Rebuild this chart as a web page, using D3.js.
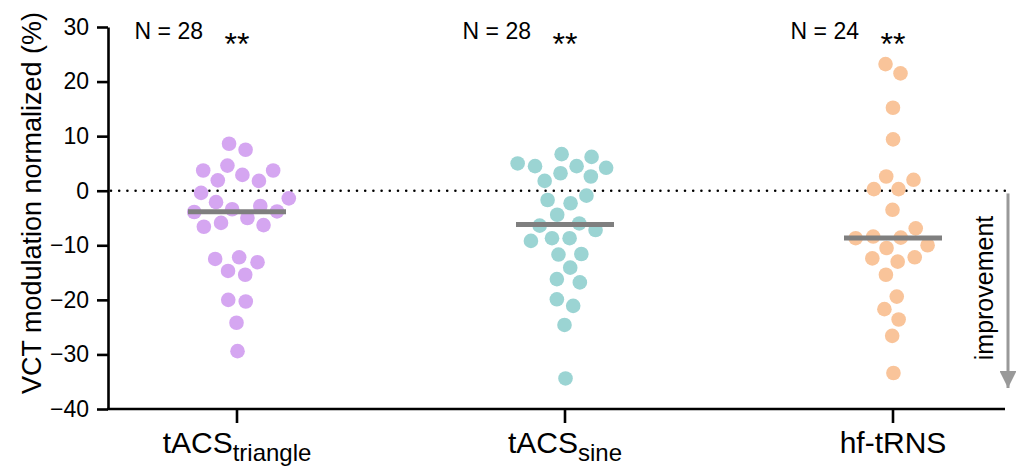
<!DOCTYPE html>
<html>
<head>
<meta charset="utf-8">
<script src="https://cdn.jsdelivr.net/npm/d3@7"></script>
<style>
  html, body { margin: 0; background: #fff; overflow: hidden; }
  svg { display: block; }
  text { font-family: "Liberation Sans", Arial, Helvetica, sans-serif; fill: #000; }
</style>
</head>
<body>
<svg id="chart" width="1016" height="468"></svg>
<script>
// groups and what is printed under each one
var categories = ["tACS_triangle", "tACS_sine", "hf-tRNS"];
var labelMain = ["tACS", "tACS", "hf-tRNS"];
var labelSub = ["triangle", "sine", ""];
var nLabels = ["N = 28", "N = 28", "N = 24"];
var sigLabels = ["**", "**", "**"];
var colors = ["#d5a6f1", "#9bd4d3", "#f9c49a"];

// VCT modulation normalized (%), one value per participant
var triangleValues = [8.6, 7.5, 4.6, 3.7, 3.7, 2.9, 1.9, 1.8, -0.4, -1.4, -2.1, -2.8, -3.4, -3.8,
  -3.9, -5.0, -5.9, -6.3, -6.6, -12.2, -12.5, -13.1, -14.7, -15.4, -20.0, -20.3, -24.2, -29.4];
var sineValues = [6.7, 6.2, 5.0, 4.5, 4.5, 4.2, 3.2, 2.6, 1.8, -0.9, -1.7, -2.3, -4.4, -6.0,
  -6.4, -7.2, -8.7, -8.7, -9.2, -11.6, -11.7, -14.1, -16.2, -16.8, -19.9, -21.1, -24.6, -34.4];
var hfValues = [23.2, 21.5, 15.2, 9.4, 2.6, 2.0, 0.3, 0.3, -3.5, -6.9, -8.4, -8.6,
  -8.7, -10.0, -10.5, -12.2, -12.4, -13.0, -15.4, -19.4, -21.7, -23.6, -26.6, -33.4];
var seriesValues = [triangleValues, sineValues, hfValues];

var yTicks = [30, 20, 10, 0, -10, -20, -30, -40];

var svg = d3.select("#chart");
var r = 7.3;

var y = d3.scaleLinear().domain([-40, 30]).range([409, 27]);
var x = d3.scalePoint().domain(categories).range([237, 893]);

// zero reference line
svg.append("line")
    .attr("x1", 111).attr("x2", 1005)
    .attr("y1", y(0)).attr("y2", y(0))
    .attr("stroke", "#000")
    .attr("stroke-width", 2.6)
    .attr("stroke-linecap", "round")
    .attr("stroke-dasharray", "0,8.2");

// y axis
var yAxis = svg.append("g")
    .attr("transform", "translate(108,0)")
    .call(d3.axisLeft(y).tickValues(yTicks).tickSize(11).tickPadding(8).tickSizeOuter(0));
yAxis.attr("font-size", null).attr("font-family", null);
yAxis.select(".domain").attr("stroke-width", 2.6);
yAxis.selectAll(".tick line").attr("stroke-width", 2.6);
yAxis.selectAll(".tick text").style("font-size", "23px");

svg.append("text")
    .attr("transform", "translate(41,203) rotate(-90)")
    .attr("text-anchor", "middle")
    .style("font-size", "27px")
    .text("VCT modulation normalized (%)");

// x axis
svg.append("line")
    .attr("x1", 107).attr("x2", 1005)
    .attr("y1", y(-40)).attr("y2", y(-40))
    .attr("stroke", "#000").attr("stroke-width", 2.6);

var xTick = svg.append("g").selectAll("g")
    .data(categories)
    .enter().append("g")
    .attr("transform", function(d) { return "translate(" + x(d) + "," + y(-40) + ")"; });

xTick.append("line")
    .attr("y2", 14)
    .attr("stroke", "#000").attr("stroke-width", 2.6);

var xLabel = xTick.append("text")
    .attr("y", 44)
    .attr("text-anchor", "middle")
    .style("font-size", "30px");
xLabel.append("tspan").text(function(d, i) { return labelMain[i]; });
xLabel.append("tspan")
    .attr("dy", 8)
    .style("font-size", "24px")
    .text(function(d, i) { return labelSub[i]; });

// dots, spread sideways so they do not overlap
categories.forEach(function(cat, ci) {
  var cx = x(cat);
  var nodes = seriesValues[ci].map(function(v, i) {
    return { v: v, x: cx + (i % 2 ? 1 : -1) * (i * 0.3), y: y(v), fy: y(v) };
  });
  var sim = d3.forceSimulation(nodes)
      .force("x", d3.forceX(cx).strength(0.04))
      .force("collide", d3.forceCollide(r + 1.5).iterations(3))
      .stop();
  for (var k = 0; k < 400; k++) sim.tick();

  var g = svg.append("g");
  g.selectAll("circle")
    .data(nodes)
    .enter().append("circle")
      .attr("cx", function(d) { return d.x; })
      .attr("cy", function(d) { return d.y; })
      .attr("r", r)
      .attr("fill", colors[ci]);

  var med = d3.median(seriesValues[ci]);
  g.append("line")
      .attr("x1", cx - 49).attr("x2", cx + 49)
      .attr("y1", y(med)).attr("y2", y(med))
      .attr("stroke", "#7f7f7f")
      .attr("stroke-width", 5);
});

// sample sizes and significance marks
var topLabels = svg.append("g").selectAll("g")
    .data(categories)
    .enter().append("g");

topLabels.append("text")
    .attr("x", function(d) { return x(d) - 34; })
    .attr("y", 39)
    .attr("text-anchor", "end")
    .style("font-size", "23px")
    .text(function(d, i) { return nLabels[i]; });

topLabels.append("text")
    .attr("x", function(d) { return x(d); })
    .attr("y", 55)
    .attr("text-anchor", "middle")
    .style("font-size", "32px")
    .text(function(d, i) { return sigLabels[i]; });

// improvement arrow on the right
svg.append("defs").append("marker")
    .attr("id", "head")
    .attr("viewBox", "0 0 10 10")
    .attr("refX", 10).attr("refY", 5)
    .attr("markerWidth", 20).attr("markerHeight", 17)
    .attr("markerUnits", "userSpaceOnUse")
    .attr("orient", "auto")
  .append("path")
    .attr("d", "M0,0L10,5L0,10Z")
    .attr("fill", "#999");

svg.append("line")
    .attr("x1", 1008).attr("x2", 1008)
    .attr("y1", y(-0.5)).attr("y2", 388)
    .attr("stroke", "#999")
    .attr("stroke-width", 3)
    .attr("marker-end", "url(#head)");

svg.append("text")
    .attr("transform", "translate(993,288) rotate(-90)")
    .attr("text-anchor", "middle")
    .style("font-size", "25px")
    .text("improvement");
</script>
</body>
</html>
